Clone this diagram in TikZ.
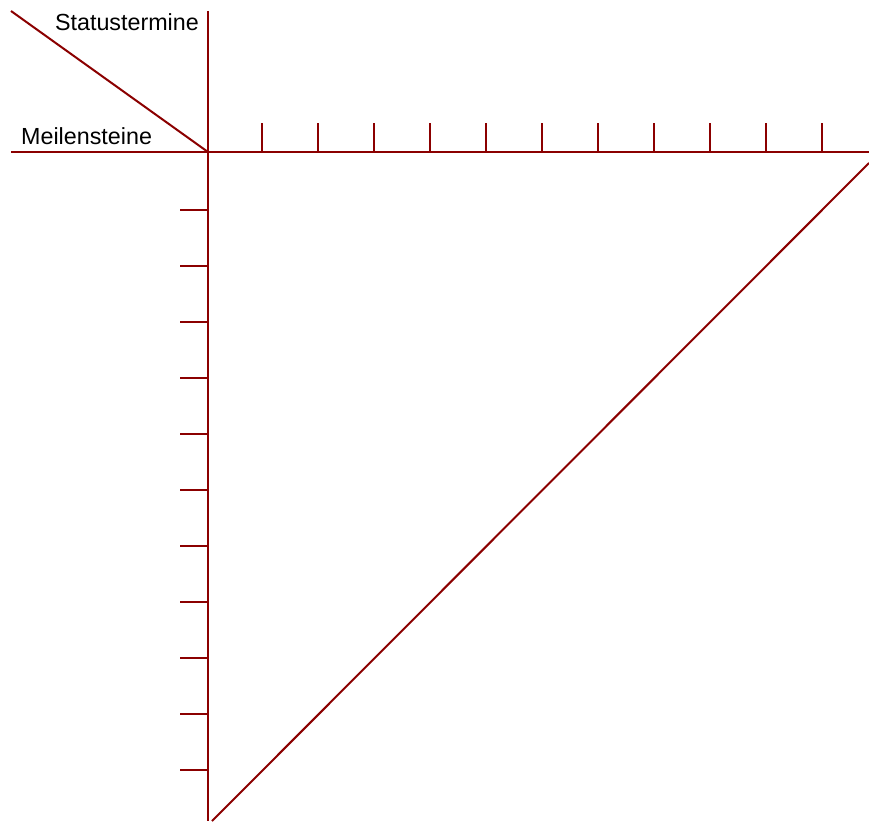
\documentclass[tikz,border=0pt]{standalone}
\usepackage{fontspec}
\setmainfont{Liberation Sans}
\definecolor{axisred}{RGB}{139,0,0}
\begin{document}
\begin{tikzpicture}[x=1pt,y=-1pt,
  axis/.style={draw=axisred,line width=2pt},
  lbl/.style={inner sep=0pt,font=\fontsize{23.3}{28}\selectfont}]
\useasboundingbox (0,0) rectangle (869,821);
\coordinate (O) at (208,152);
\coordinate (hl) at (11,152);
\coordinate (hr) at (869,152);
\coordinate (vt) at (208,11);
\coordinate (vb) at (208,821);
\coordinate (dl) at (11,11);
\coordinate (gs) at (869,163);
\coordinate (ge) at (212,821);
\draw[axis] (hl) -- (hr);
\draw[axis] (vt) -- (vb);
\draw[axis] (dl) -- (O);
\draw[axis] (gs) -- (ge);
\foreach \i in {0,...,10}{
  \coordinate (tx\i) at ({262+56*\i},152);
  \draw[axis] (tx\i) -- ++(0,-29);
  \coordinate (ty\i) at (208,{210+56*\i});
  \draw[axis] (ty\i) -- ++(-28,0);
}
\node[lbl,anchor=base east] (st) at (199,31) {Statustermine};
\node[lbl,anchor=base west] (ms) at (21,145) {Meilensteine};
\end{tikzpicture}
\end{document}
